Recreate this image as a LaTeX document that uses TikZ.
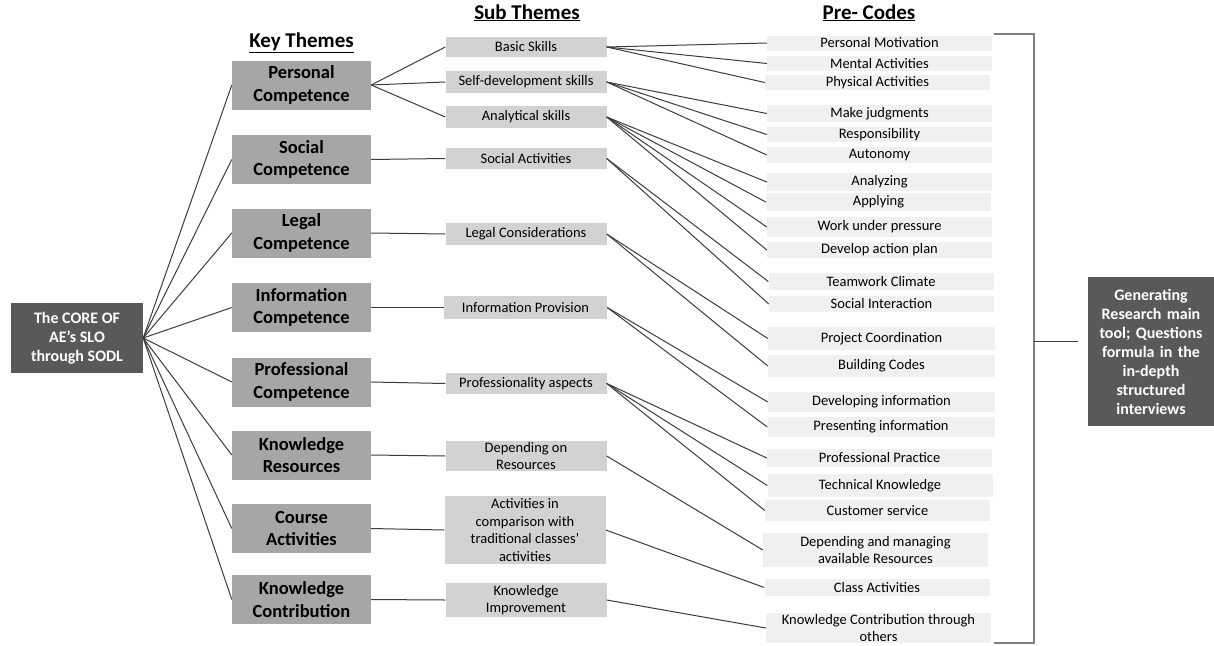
\documentclass[tikz,border=0pt]{standalone}
\usepackage{fontspec}
\setmainfont{Carlito}
\definecolor{coregray}{HTML}{595959}
\definecolor{keygray}{HTML}{A6A6A6}
\definecolor{subgray}{HTML}{D2D2D2}
\definecolor{pregray}{HTML}{F0F0F0}
\definecolor{linegray}{HTML}{3C3C3C}
\definecolor{bracketgray}{HTML}{7F7F7F}
\begin{document}
\begin{tikzpicture}[x=1pt,y=-1pt,
  box/.style={inner sep=0pt, align=center, anchor=center},
  core/.style={box, fill=coregray, text=white, font=\fontsize{16}{19}\selectfont\bfseries},
  key/.style={box, fill=keygray, minimum width=139pt, minimum height=49pt,
              font=\fontsize{18.5}{22.5}\selectfont\bfseries},
  sub/.style={box, fill=subgray, minimum width=161pt, font=\fontsize{14.5}{17.7}\selectfont},
  pre/.style={box, fill=pregray, minimum width=225pt, font=\fontsize{14.5}{17.7}\selectfont},
  link/.style={draw=linegray, line width=1pt},
  bracket/.style={draw=bracketgray, line width=1.5pt},
  head/.style={anchor=base, inner sep=0pt, font=\fontsize{21}{25}\selectfont\bfseries}
]
\useasboundingbox (0,0) rectangle (1214,645);

% column headings
\node[head] (hkey) at (301.5,47) {\underline{Key Themes}};
\node[head] (hsub) at (527,19) {\underline{Sub Themes}};
\node[head] (hpre) at (869,19) {\underline{Pre- Codes}};

% root
\node[core, minimum width=132pt, minimum height=70pt] (core) at (77,338)
  {The CORE OF\\AE’s SLO\\through SODL};

% key themes
\node[key] (k1) at (301.5,85)    {Personal\\Competence};
\node[key] (k2) at (301.5,159.5) {Social\\Competence};
\node[key] (k3) at (301.5,233)   {Legal\\Competence};
\node[key] (k4) at (301.5,307.5) {Information\\Competence};
\node[key] (k5) at (301.5,382)   {Professional\\Competence};
\node[key] (k6) at (301.5,455)   {Knowledge\\Resources};
\node[key] (k7) at (301.5,528.5) {Course\\Activities};
\node[key] (k8) at (301.5,599.5) {Knowledge\\Contribution};

% sub themes
\node[sub, minimum height=20pt] (s1)  at (526,47)    {Basic Skills};
\node[sub, minimum height=22pt] (s2)  at (526,82)    {Self-development skills};
\node[sub, minimum height=22pt] (s3)  at (526,117)   {Analytical skills};
\node[sub, minimum height=21pt] (s4)  at (526,158.5) {Social Activities};
\node[sub, minimum height=22pt] (s5)  at (526,234)   {Legal Considerations};
\node[sub, minimum height=23pt, minimum width=163pt] (s6) at (525.5,307.5) {Information Provision};
\node[sub, minimum height=21pt] (s7)  at (526,383.5) {Professionality aspects};
\node[sub, minimum height=30pt] (s8)  at (526,456)   {Depending on\\Resources};
\node[sub, minimum height=68pt] (s9)  at (525,530)   {Activities in\\comparison with\\traditional classes’\\activities};
\node[sub, minimum height=34pt] (s10) at (526,600)   {Knowledge\\Improvement};

% pre-codes
\node[pre, minimum height=15pt] (p1)  at (879.5,43)    {Personal Motivation};
\node[pre, minimum height=15pt] (p2)  at (879.5,63.5)  {Mental Activities};
\node[pre, minimum height=15pt] (p3)  at (877.5,82.5)  {Physical Activities};
\node[pre, minimum height=17pt] (p4)  at (879.5,113.5) {Make judgments};
\node[pre, minimum height=15pt] (p5)  at (879.5,134.5) {Responsibility};
\node[pre, minimum height=16pt] (p6)  at (879.5,155)   {Autonomy};
\node[pre, minimum height=18pt] (p7)  at (879.5,182)   {Analyzing};
\node[pre, minimum height=18pt] (p8)  at (878.5,202)   {Applying};
\node[pre, minimum height=20pt] (p9)  at (879.5,227)   {Work under pressure};
\node[pre, minimum height=16pt] (p10) at (879.5,250)   {Develop action plan};
\node[pre, minimum height=17pt] (p11) at (881,281.5)   {Teamwork Climate};
\node[pre, minimum height=16pt] (p12) at (881.5,304)   {Social Interaction};
\node[pre, minimum height=23pt, minimum width=227pt] (p13) at (881.5,338.5) {Project Coordination};
\node[pre, minimum height=22pt, minimum width=227pt] (p14) at (881.5,366)   {Building Codes};
\node[pre, minimum height=20pt, minimum width=227pt] (p15) at (881.5,402)   {Developing information};
\node[pre, minimum height=20pt, minimum width=227pt] (p16) at (881,427)     {Presenting information};
\node[pre, minimum height=18pt] (p17) at (879.5,458)   {Professional Practice};
\node[pre, minimum height=23pt] (p18) at (880,485.5)   {Technical Knowledge};
\node[pre, minimum height=21pt] (p19) at (877.5,510.5) {Customer service};
\node[pre, minimum height=34pt] (p20) at (875.5,550)   {Depending and managing\\available Resources};
\node[pre, minimum height=17pt] (p21) at (877,587.5)   {Class Activities};
\node[pre, minimum height=30pt] (p22) at (878.5,628)   {Knowledge Contribution through\\others};

% outcome
\node[core, minimum width=126pt, minimum height=149pt, text width=122pt] (gen) at (1151,351.5)
  {Generating\\Research main\\tool; Questions\\formula in the\\in-depth\\structured\\interviews};

% root to key themes
\foreach \k in {k1,k2,k3,k4,k5,k6,k7,k8}
  \draw[link] (core.east) -- (\k.west);

% key themes to sub themes
\draw[link] (k1.east) -- (s1.west);
\draw[link] (k1.east) -- (s2.west);
\draw[link] (k1.east) -- (s3.west);
\draw[link] (k2.east) -- (s4.west);
\draw[link] (k3.east) -- (s5.west);
\draw[link] (k4.east) -- (s6.west);
\draw[link] (k5.east) -- (s7.west);
\draw[link] (k6.east) -- (s8.west);
\draw[link] (k7.east) -- (s9.west);
\draw[link] (k8.east) -- (s10.west);

% sub themes to pre-codes
\foreach \s/\p in {s1/p1,s1/p2,s1/p3,
                   s2/p4,s2/p5,s2/p6,
                   s3/p7,s3/p8,s3/p9,s3/p10,
                   s4/p11,s4/p12,
                   s5/p13,s5/p14,
                   s6/p15,s6/p16,
                   s7/p17,s7/p18,s7/p19,
                   s8/p20,s9/p21,s10/p22}
  \draw[link] (\s.east) -- (\p.west);

% bracket gathering the pre-codes
\coordinate (btop) at (994,34);
\coordinate (bbot) at (994,643);
\coordinate (bmid) at (1034,341);
\coordinate (btip) at (1078,341);
\draw[bracket] (btop) -- (1034,34) -- (1034,643) -- (bbot);
\draw[link] (bmid) -- (btip);
\end{tikzpicture}
\end{document}
